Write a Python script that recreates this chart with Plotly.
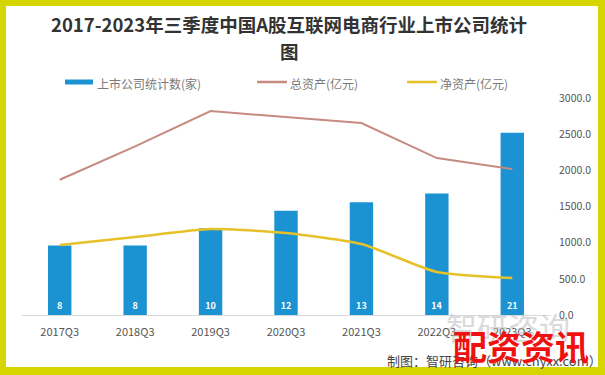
import plotly.graph_objects as go

categories = ["2017Q3", "2018Q3", "2019Q3", "2020Q3", "2021Q3", "2022Q3", "2023Q3"]
company_count = [8, 8, 10, 12, 13, 14, 21]
total_assets = [1870, 2330, 2820, 2736, 2653, 2170, 2018]
net_assets = [967, 1078, 1188, 1133, 981, 594, 511]

W, H = 605, 375
ML, MR, MT, MB = 22, 55, 98, 60
PW, PH = W - ML - MR, H - MT - MB


def P(px, py):
    return (px - ML) / PW, (H - MB - py) / PH


BLUE = "#1b92d1"
ROSE = "#c68b80"
GOLD = "#e6c12a"
FONT = "Noto Sans CJK SC"

fig = go.Figure()
fig.add_trace(go.Bar(
    x=categories, y=company_count, name="上市公司统计数(家)",
    marker=dict(color=BLUE, line=dict(width=0)), width=0.31,
    text=[str(v) for v in company_count], textposition="inside",
    insidetextanchor="start", textangle=0,
    textfont=dict(color="white", size=9, family=FONT, weight="bold"),
    yaxis="y", showlegend=False,
))
fig.add_trace(go.Scatter(
    x=categories, y=total_assets, name="总资产(亿元)", mode="lines",
    line=dict(color=ROSE, width=2), yaxis="y2", showlegend=False,
))
fig.add_trace(go.Scatter(
    x=categories, y=net_assets, name="净资产(亿元)", mode="lines",
    line=dict(color=GOLD, width=2.5, shape="spline", smoothing=0.6),
    yaxis="y2", showlegend=False,
))

shapes = []
# white card over yellow background
x0, y0 = P(6, 6)
x1, y1 = P(598, 367)
shapes.append(dict(type="rect", xref="paper", yref="paper", x0=x0, y0=y1, x1=x1, y1=y0,
                   fillcolor="white", line=dict(width=0), layer="below"))
# manual legend swatches
a, b = P(65, 79.5)
c, d = P(93, 84.5)
shapes.append(dict(type="rect", xref="paper", yref="paper", x0=a, y0=d, x1=c, y1=b,
                   fillcolor=BLUE, line=dict(width=0)))
a, b = P(257, 82)
c, _ = P(287, 82)
shapes.append(dict(type="line", xref="paper", yref="paper", x0=a, y0=b, x1=c, y1=b,
                   line=dict(color=ROSE, width=2.5)))
a, b = P(407, 82)
c, _ = P(437, 82)
shapes.append(dict(type="line", xref="paper", yref="paper", x0=a, y0=b, x1=c, y1=b,
                   line=dict(color=GOLD, width=2.5)))

annotations = []


def txt(text, px, py, size, color, xanchor="left", bold=False, opacity=1.0):
    x, y = P(px, py)
    annotations.append(dict(
        text=text, x=x, y=y, xref="paper", yref="paper", xanchor=xanchor,
        yanchor="middle", showarrow=False, opacity=opacity,
        font=dict(size=size, color=color, family=FONT, weight="bold" if bold else "normal"),
    ))


txt("2017-2023年三季度中国A股互联网电商行业上市公司统计", 289, 24, 18.5, "#333333", "center", True)
txt("图", 289, 51, 18.5, "#333333", "center", True)
txt("上市公司统计数(家)", 95, 83, 12, "#7a7a7a")
txt("总资产(亿元)", 288, 83, 12, "#7a7a7a")
txt("净资产(亿元)", 438, 83, 12, "#7a7a7a")
txt("制图：智研咨询（www.chyxx.com）", 385, 360, 13, "#444444")
txt("智研咨询", 508, 326, 31, "#bdbdbd", "center", opacity=0.55)
txt("配资资讯", 521, 345, 34, "#f01010", "center", True)

fig.update_layout(
    width=W, height=H,
    margin=dict(l=ML, r=MR, t=MT, b=MB, pad=0),
    paper_bgcolor="#d6d500", plot_bgcolor="white",
    font=dict(family=FONT, size=11, color="#555555"),
    bargap=0.69,
    shapes=shapes, annotations=annotations,
    xaxis=dict(showline=True, linecolor="#d9d9d9", linewidth=1, showgrid=False,
               ticks="outside", ticklen=7, tickcolor="rgba(0,0,0,0)",
               tickfont=dict(size=11, color="#555555"), fixedrange=True),
    yaxis=dict(range=[0, 25], dtick=5, showgrid=False, showticklabels=False,
               zeroline=False, showline=False),
    yaxis2=dict(range=[0, 3000], dtick=500, tickformat=".1f", overlaying="y", side="right",
                showgrid=False, zeroline=False, showline=False,
                ticklabelstandoff=8, tickfont=dict(size=10.5, color="#555555")),
)

fig.write_html("out.html", config={"displayModeBar": False},
               post_script="document.body.style.margin='0';")
